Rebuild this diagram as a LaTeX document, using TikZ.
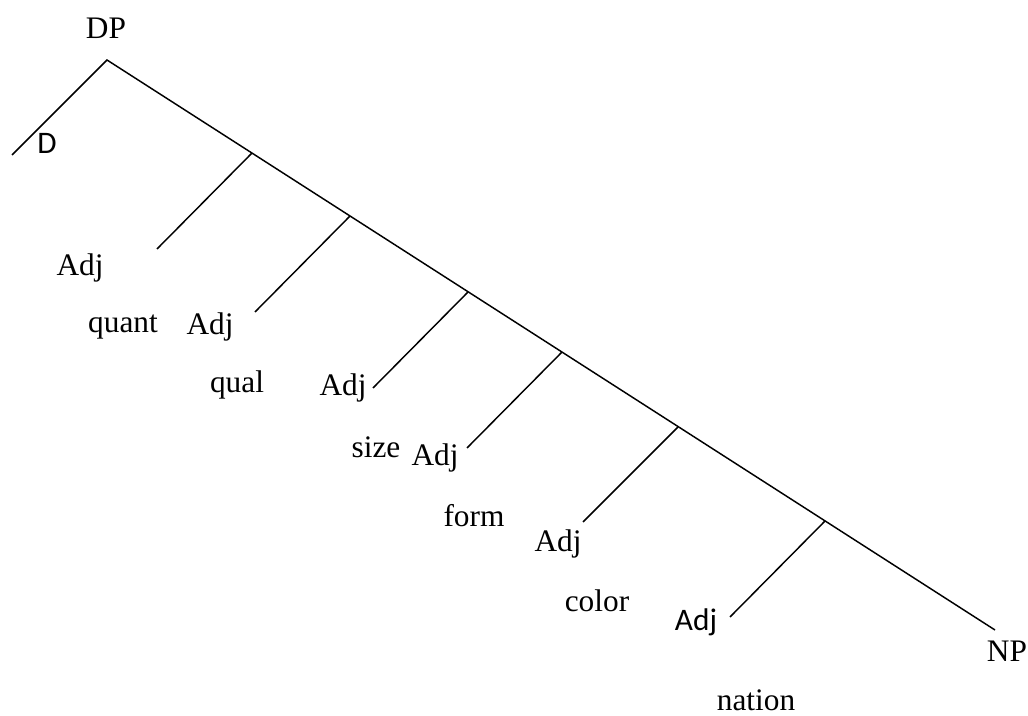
\documentclass[tikz,border=0pt]{standalone}
\usepackage{fontspec}
\setmainfont{Liberation Serif}
\newfontfamily\calfont{Carlito}
\usetikzlibrary{positioning,calc}

\begin{document}
\begin{tikzpicture}[x=0.75pt,y=-0.75pt,line width=1.1pt,
  lbl/.style={inner sep=0pt,font=\fontsize{23.5}{27}\selectfont},
  slbl/.style={inner sep=0pt,font=\calfont\fontsize{23.5}{27}\selectfont}]
\useasboundingbox (0,0) rectangle (1028,716);
% labels
\node[lbl] (dp) at (106,28) {DP};
\node[slbl] (d) at (47,143) {D};
\node[lbl] (adjA) at (80,268) {Adj};
\node[lbl] (quant) at (123,327) {quant};
\node[lbl] (adjB) at (210,327) {Adj};
\node[lbl] (qual) at (237,385) {qual};
\node[lbl] (adjC) at (343,388) {Adj};
\node[lbl] (size) at (376,447) {size};
\node[lbl] (adjD) at (435,458) {Adj};
\node[lbl] (form) at (474,516) {form};
\node[lbl] (adjE) at (558,544) {Adj};
\node[lbl] (color) at (597,601) {color};
\node[slbl] (adjF) at (696,622) {Adj};
\node[lbl] (np) at (1007,651) {NP};
\node[lbl] (nation) at (756,700) {nation};
% branch points
\coordinate (top) at (107,60);
\coordinate (dend) at (12,155);
\coordinate (npend) at (995,630);
\coordinate (b1) at (252,153);
\coordinate (b2) at (350,216);
\coordinate (b3) at (468,292);
\coordinate (b4) at (562,352);
\coordinate (b5) at (678,427);
\coordinate (b6) at (825,521);
\draw (dend) -- (top) -- (npend);
\draw (b1) -- ++(-95,96) coordinate (e1);
\draw (b2) -- ++(-95,96) coordinate (e2);
\draw (b3) -- ++(-95,96) coordinate (e3);
\draw (b4) -- ++(-95,96) coordinate (e4);
\draw (b5) -- ++(-95,95) coordinate (e5);
\draw (b6) -- ++(-95,96) coordinate (e6);
\end{tikzpicture}
\end{document}
